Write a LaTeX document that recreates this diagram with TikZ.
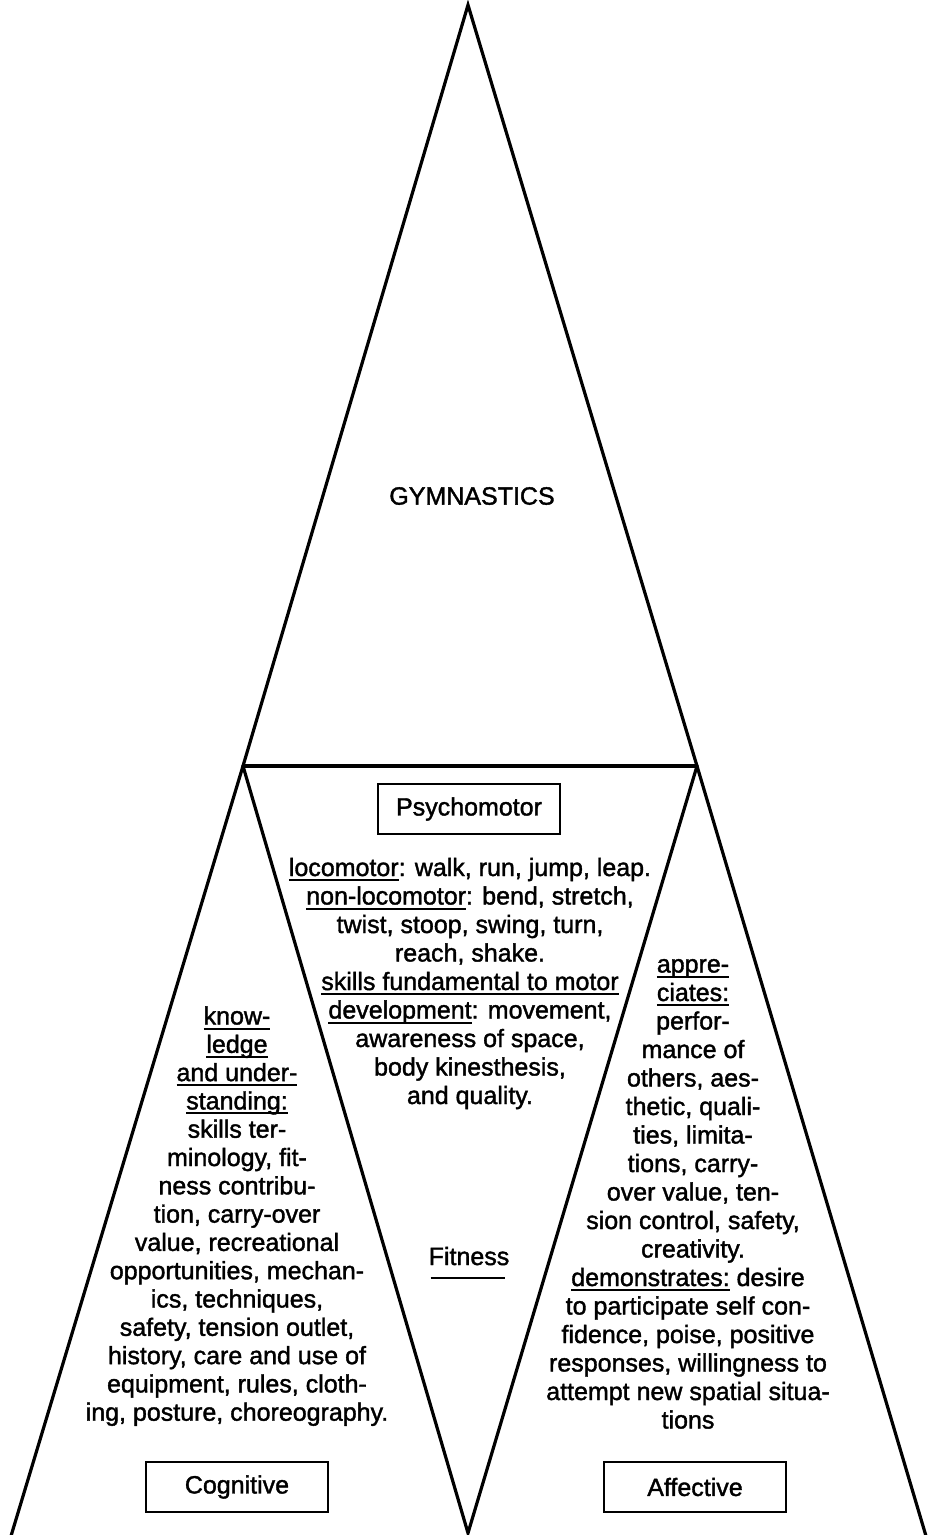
\documentclass[tikz,border=0pt]{standalone}
\usepackage{fontspec}
\setmainfont{Liberation Sans}[FakeBold=1.5]
% underline drawn as a rule a little below the baseline
\newcommand\uln[1]{\setbox0\hbox{#1}\rlap{\rule[-5pt]{\wd0}{2pt}}\box0\relax}
\begin{document}
\begin{tikzpicture}[x=1pt,y=-1pt,
  edge/.style={line width=3.2pt, line join=miter, line cap=round},
  txt/.style={font=\fontsize{25}{29}\selectfont, inner sep=0pt, anchor=base},
  tag/.style={draw, line width=2.6pt, minimum width=182pt, minimum height=50pt,
              inner sep=0pt, font=\fontsize{25}{29}\selectfont}]
\useasboundingbox (0,0) rectangle (928,1535);

% corners of the large triangle and its subdivision
\coordinate (apex) at (468,5);
\coordinate (L) at (243,766);
\coordinate (R) at (697,766);
\coordinate (BL) at (11,1536);
\coordinate (BM) at (468,1533);
\coordinate (BR) at (926,1536);

\draw[edge] (BL) -- (L) -- (apex) -- (R) -- (BR);
\draw[edge] (L) -- (R);
\draw[edge] (L) -- (BM) -- (R);

% title
\node[font=\fontsize{25}{29}\selectfont, inner sep=0pt] (title) at (472,496) {GYMNASTICS};

% domain labels
\node[tag] (psy) at (469,809) {Psychomotor};
\node[tag] (cog) at (237,1487) {Cognitive};
\node[tag] (aff) at (695,1487) {Affective};

% psychomotor text
\foreach \t [count=\i] in {
  {\uln{locomotor}: walk, run, jump, leap.},
  {\uln{non-locomotor}: bend, stretch,},
  {twist, stoop, swing, turn,},
  {reach, shake.},
  {\uln{skills fundamental to motor}},
  {\uln{development}: movement,},
  {awareness of space,},
  {body kinesthesis,},
  {and quality.}}
  \node[txt] (psyl-\i) at (470,{876+28.5*(\i-1)}) {\t};

% cognitive text
\foreach \t [count=\i] in {
  {\uln{know-}},
  {\uln{ledge}},
  {\uln{and under-}},
  {\uln{standing:}},
  {skills ter-},
  {minology, fit-},
  {ness contribu-},
  {tion, carry-over},
  {value, recreational},
  {opportunities, mechan-},
  {ics, techniques,},
  {safety, tension outlet,},
  {history, care and use of},
  {equipment, rules, cloth-},
  {ing, posture, choreography.}}
  \node[txt] (cogl-\i) at (237,{1024.5+28.3*(\i-1)}) {\t};

% affective text
\foreach \t [count=\i] in {
  {\uln{appre-}},
  {\uln{ciates:}},
  {perfor-},
  {mance of},
  {others, aes-},
  {thetic, quali-},
  {ties, limita-},
  {tions, carry-},
  {over value, ten-},
  {sion control, safety,},
  {creativity.},
  {\uln{demonstrates:} desire},
  {to participate self con-},
  {fidence, poise, positive},
  {responses, willingness to},
  {attempt new spatial situa-},
  {tions}}
  \node[txt] (affl-\i) at ({\i<12 ? 693 : 688},{972.5+28.5*(\i-1)}) {\t};

% fitness label with its underline
\node[txt] (fit) at (469,1265) {Fitness};
\draw[line width=2.4pt] ([xshift=2pt,yshift=-13pt]fit.base west) -- ([xshift=-4pt,yshift=-13pt]fit.base east);
\end{tikzpicture}
\end{document}
